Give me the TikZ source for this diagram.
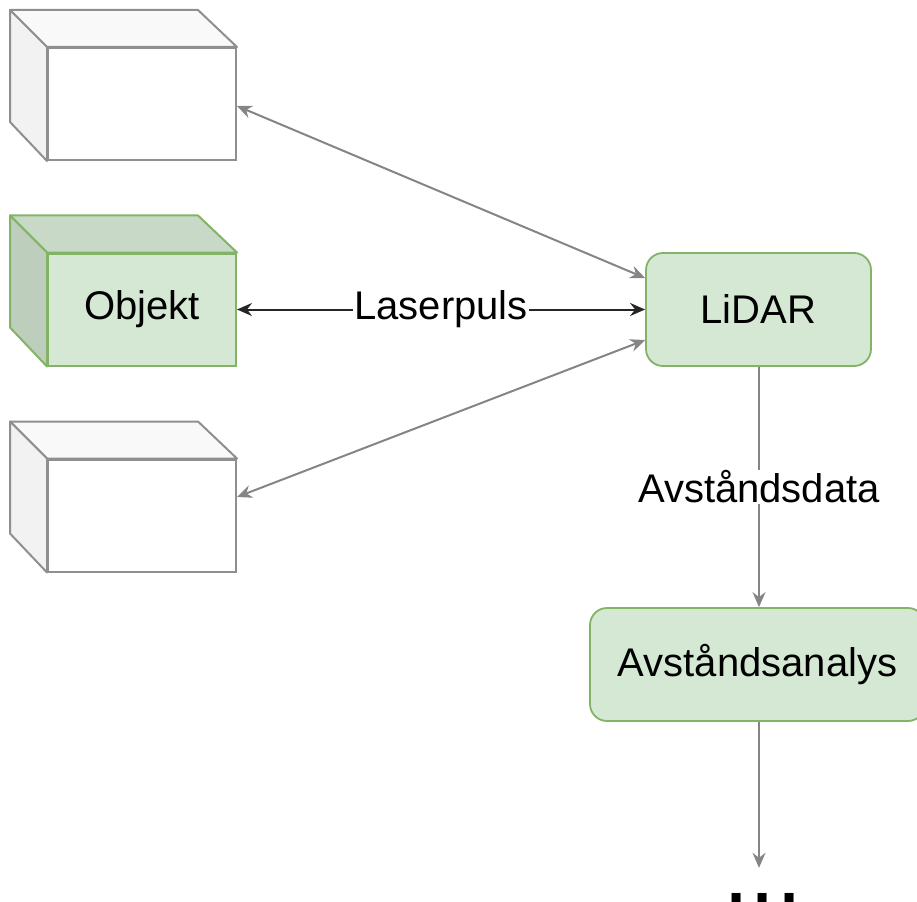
\documentclass[tikz,border=0pt]{standalone}
\usepackage{fontspec}
\setmainfont{Liberation Sans}
\usetikzlibrary{arrows.meta}
\definecolor{boxgreen}{HTML}{D5E8D4}
\definecolor{boxgreenline}{HTML}{82B366}
\definecolor{greentop}{HTML}{C8DAC7}
\definecolor{greenside}{HTML}{BDCEBC}
\definecolor{cubeline}{HTML}{8F8F8F}
\definecolor{cubetop}{HTML}{F9F9F9}
\definecolor{cubeside}{HTML}{F2F2F2}
\definecolor{linkgrey}{HTML}{858585}
\tikzset{
  >={Stealth[length=15pt, width=13pt, inset=5pt]},
  bigtext/.style={font=\fontsize{40}{48}\selectfont},
  front/.style={draw=cubeline, fill=white, line width=2pt, minimum width=188pt,
    minimum height=112pt, inner sep=0pt, bigtext},
  greenfront/.style={front, draw=boxgreenline, fill=boxgreen},
  procbox/.style={draw=boxgreenline, fill=boxgreen, line width=1.8pt,
    rounded corners=17pt, minimum height=113pt, inner sep=0pt, bigtext},
  greylink/.style={draw=linkgrey, line width=2pt, <->, linkgrey},
  greyarrow/.style={draw=linkgrey, line width=2pt, ->, linkgrey},
  blacklink/.style={draw=black!85, line width=2pt, <->},
  linklabel/.style={fill=white, inner sep=1pt, text=black, bigtext}
}
% the top face and the left face of a cube whose front face is node #1
\newcommand{\cubefaces}[4]{%
  \filldraw[draw=#2, fill=#3, line width=2pt, line join=round]
    (#1.north west) -- ++(-37,-37) -- ++(188,0) -- (#1.north east) -- cycle;
  \filldraw[draw=#2, fill=#4, line width=2pt, line join=round]
    (#1.north west) -- ++(-37,-37) -- ++(0,112) -- (#1.south west) -- cycle;
}
\begin{document}
\begin{tikzpicture}[x=1pt, y=-1pt]
  \useasboundingbox (0,0) rectangle (917,901);

  % three cubes on the left
  \node[front] (cubetopnode) at (142,104) {};
  \cubefaces{cubetopnode}{cubeline}{cubetop}{cubeside}
  \node[greenfront] (objekt) at (142,309.5) {Objekt};
  \cubefaces{objekt}{boxgreenline}{greentop}{greenside}
  \node[front] (cubebotnode) at (142,515.5) {};
  \cubefaces{cubebotnode}{cubeline}{cubetop}{cubeside}

  % processing chain on the right
  \node[procbox, minimum width=225pt] (lidar) at (758.5,309.5) {LiDAR};
  \node[procbox, minimum width=335pt] (analys) at (757.5,664.5) {Avståndsanalys};
  \node[font=\fontsize{94}{100}\selectfont, inner sep=0pt, text height=33pt,
    anchor=base] (dots) at (763,903) {...};

  % laser pulses between the objects and the sensor
  \draw[blacklink] (objekt.east) -- node[linklabel] {Laserpuls} (lidar.west |- objekt.east);
  \draw[greylink] ([yshift=-2pt]cubetopnode.east) -- ([yshift=31.5pt]lidar.west);
  \draw[greylink] ([yshift=18.5pt]cubebotnode.east) -- ([yshift=-30.5pt]lidar.west);

  % data flow downwards
  \draw[greyarrow] (lidar.south -| 759,0) -- node[linklabel] {Avståndsdata} (analys.north -| 759,0);
  \draw[greyarrow] (analys.south -| 759,0) -- ([yshift=2pt]dots.north -| 759,0);
\end{tikzpicture}
\end{document}
